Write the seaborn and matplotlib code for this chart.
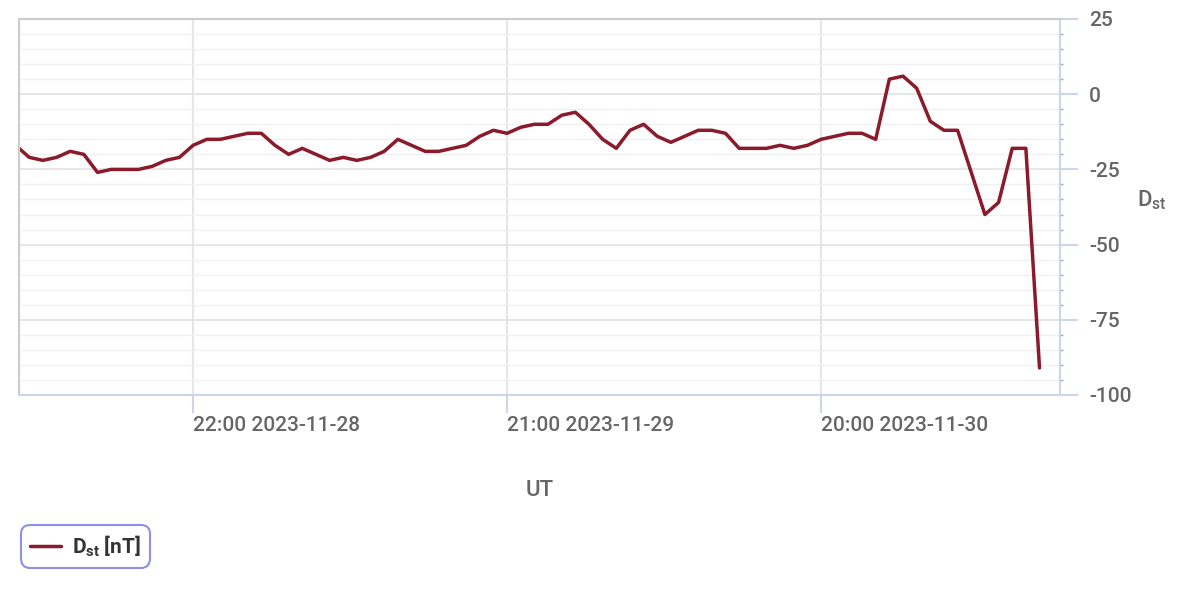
import numpy as np
import pandas as pd
import matplotlib
matplotlib.use("Agg")
import matplotlib.pyplot as plt
import matplotlib.dates as mdates
from matplotlib.ticker import MultipleLocator
from matplotlib import font_manager
from matplotlib.font_manager import FontProperties
import seaborn as sns

# ---------------- data ----------------
start_time = "2023-11-28 09:00"
dst_values = [
    -17, -21, -22, -21, -19, -20, -26, -25, -25, -25,
    -24, -22, -21, -17, -15, -15, -14, -13, -13, -17,
    -20, -18, -20, -22, -21, -22, -21, -19, -15, -17,
    -19, -19, -18, -17, -14, -12, -13, -11, -10, -10,
    -7, -6, -10, -15, -18, -12, -10, -14, -16, -14,
    -12, -12, -13, -18, -18, -18, -17, -18, -17, -15,
    -14, -13, -13, -15, 5, 6, 2, -9, -12, -12,
    -26, -40, -36, -18, -18, -91,
]
x_tick_times = ["2023-11-28 22:00", "2023-11-29 21:00", "2023-11-30 20:00"]
x_limits = ["2023-11-28 09:15", "2023-12-01 13:30"]
y_ticks = [-100, -75, -50, -25, 0, 25]
series_label = r"$\mathregular{D_{st}}$ [nT]"
x_label = "UT"
y_label = r"$\mathregular{D_{st}}$"

times = pd.date_range(start_time, periods=len(dst_values), freq="h")
df = pd.DataFrame({"time": times, "dst": dst_values})

# ---------------- style ----------------
sns.set_theme(style="white")


def pick(fams):
    for f in fams:
        try:
            font_manager.findfont(FontProperties(family=[f]), fallback_to_default=False)
            return f
        except Exception:
            pass
    return "DejaVu Sans"


font = pick(["Roboto", "DejaVu Sans"])
plt.rcParams["font.family"] = [font, "DejaVu Sans"]
plt.rcParams["font.weight"] = "medium"
plt.rcParams["mathtext.fontset"] = "custom"
plt.rcParams["mathtext.rm"] = font + ":medium"
plt.rcParams["mathtext.it"] = font
plt.rcParams["mathtext.bf"] = font + ":bold"
plt.rcParams["axes.unicode_minus"] = False

LINE = "#8b1a2b"
TXT = "#666666"
AXC = "#ccd6eb"
FS = 15

fig = plt.figure(figsize=(12, 6), dpi=100)
ax = fig.add_axes([19 / 1200, 1 - 395 / 600, (1060 - 19) / 1200, (395 - 19) / 600])

sns.lineplot(data=df, x="time", y="dst", ax=ax, color=LINE, linewidth=2.5,
             label=series_label, legend=False)

ax.set_xlim(pd.to_datetime(x_limits[0]), pd.to_datetime(x_limits[1]))
ax.set_ylim(y_ticks[0], y_ticks[-1])

# grid
ax.set_axisbelow(True)
ax.yaxis.set_minor_locator(MultipleLocator(5))
ax.set_yticks(y_ticks)
ax.grid(which="minor", axis="y", color="#f0f0f0", lw=1.0)
ax.grid(which="major", axis="y", color="#e3e3e3", lw=1.2)
ax.grid(which="major", axis="x", color="#e6e6e6", lw=1.5)

# spines
for s in ["top", "left"]:
    ax.spines[s].set_color("#cccccc")
    ax.spines[s].set_linewidth(1.5)
for s in ["bottom", "right"]:
    ax.spines[s].set_color(AXC)
    ax.spines[s].set_linewidth(1.5)

# x ticks
ax.set_xticks(pd.to_datetime(x_tick_times))
ax.xaxis.set_major_formatter(mdates.DateFormatter("%H:%M %Y-%m-%d"))
ax.tick_params(axis="x", which="major", length=13, width=1.5, color=AXC,
               pad=2, labelsize=FS, labelcolor=TXT, bottom=True)
ax.tick_params(axis="x", which="minor", bottom=False)
plt.setp(ax.get_xticklabels(), ha="left", fontweight="medium")

# y ticks on the right
ax.yaxis.tick_right()
ax.tick_params(axis="y", which="major", length=13, width=1.5, color=AXC,
               pad=8, labelsize=FS, labelcolor=TXT, right=True, left=False,
               labelright=True, labelleft=False)
ax.tick_params(axis="y", which="minor", length=2.5, width=1, color="#a0a8b8",
               right=True, left=False)
plt.setp(ax.get_yticklabels(), fontweight="medium")

# axis labels
ax.set_xlabel(x_label, fontsize=FS + 1, color=TXT, fontweight="medium")
ax.xaxis.set_label_coords(0.5, (395 - 480) / 376)
ax.set_ylabel("")
fig.text(1137 / 1200, 1 - 200 / 600, y_label, ha="left", va="center",
         fontsize=FS + 1, color=TXT)

# legend
handles, labels = ax.get_legend_handles_labels()
leg = ax.legend(handles, labels, loc="upper left",
                bbox_to_anchor=(21 / 1200, 1 - 525 / 600),
                bbox_transform=fig.transFigure, borderaxespad=0,
                frameon=True, fancybox=True, framealpha=1,
                facecolor="white", edgecolor="#8f8fe8",
                prop={"weight": "bold", "size": 15},
                labelcolor="#333333", handlelength=1.5,
                handletextpad=0.55, borderpad=0.42)
leg.get_frame().set_linewidth(1.5)
leg.get_frame().set_boxstyle("round,pad=0,rounding_size=0.45")

fig.savefig("out.png", dpi=100)
